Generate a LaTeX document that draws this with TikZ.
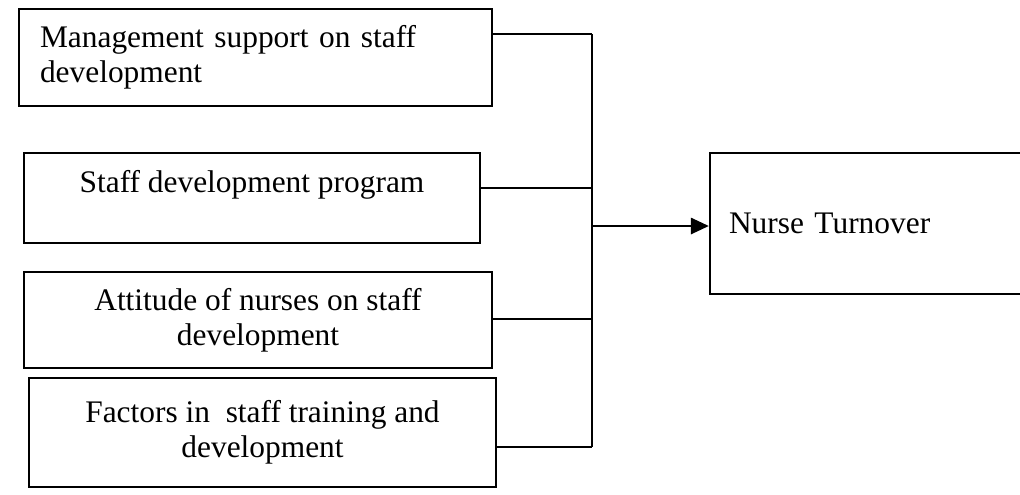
\documentclass[tikz,border=0pt]{standalone}
\usepackage{fontspec}
\setmainfont{Liberation Serif}
\usetikzlibrary{arrows.meta}
\begin{document}
\begin{tikzpicture}[x=0.5pt,y=-0.5pt,
    factor/.style={draw,line width=1.1pt,inner sep=0pt,font=\fontsize{15.7}{17.5}\selectfont},
    link/.style={line width=1.1pt}]
    \useasboundingbox (0,0) rectangle (1020,494);
    % the four factor boxes
    \node[factor,minimum width=236.5pt,minimum height=48.5pt,text width=215.5pt,align=left] (mgmt) at (255.5,57.5) {Management support on staff\\development};
    \node[factor,minimum width=228pt,text height=19.5pt,text depth=25.5pt] (program) at (252,198) {Staff development program};
    \node[factor,minimum width=234pt,minimum height=48pt,align=center] (attitude) at (258,320) {Attitude of nurses on staff\\development};
    \node[factor,minimum width=233.5pt,minimum height=54.5pt,align=center] (training) at (262.5,432.5) {Factors in~ staff training and\\development};
    \node[factor,minimum width=160pt,minimum height=70.5pt,text width=141pt,align=left] (turnover) at (870,223.5) {Nurse Turnover};
    % joints on the trunk line
    \coordinate (j1) at (592,34);
    \coordinate (j2) at (592,188);
    \coordinate (j3) at (592,319);
    \coordinate (j4) at (592,447);
    \coordinate (hub) at (592,226);
    \draw[link] (mgmt.east |- j1) -- (j1);
    \draw[link] (program.east |- j2) -- (j2);
    \draw[link] (attitude.east |- j3) -- (j3);
    \draw[link] (training.east |- j4) -- (j4);
    \draw[link] (j1) -- (j4);
    \draw[link,line width=1.4pt,-{Triangle[length=9pt,width=8pt]}] (hub) -- (hub -| turnover.west);
\end{tikzpicture}
\end{document}
